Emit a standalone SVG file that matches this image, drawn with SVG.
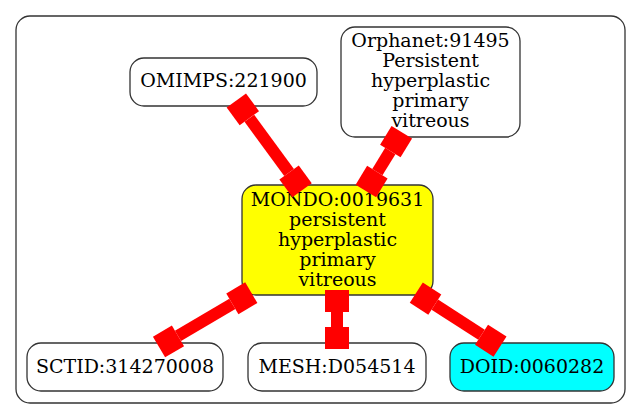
<svg xmlns="http://www.w3.org/2000/svg" width="641" height="419" viewBox="0 0 641 419">
<style>
.n{fill:#fff;stroke:#333;stroke-width:1.3}
.t{font-family:"DejaVu Serif",serif;font-size:19px;fill:#000;text-anchor:middle}
.e rect{fill:#f00}
</style>
<rect width="641" height="419" fill="#fff"/>
<rect x="16" y="16" width="609" height="387" rx="14" fill="#fff" stroke="#333" stroke-width="1.3"/>
<g id="OMIMPS_221900">
<rect class="n" x="130" y="58" width="187" height="48" rx="14"/>
<text class="t" x="223.5" y="87">OMIMPS:221900</text>
</g>
<g id="Orphanet_91495">
<rect class="n" x="341" y="27" width="179" height="110" rx="14"/>
<text class="t" x="430.5" y="46.5">Orphanet:91495</text>
<text class="t" x="430.5" y="66.5">Persistent</text>
<text class="t" x="430.5" y="86.5">hyperplastic</text>
<text class="t" x="430.5" y="106.5">primary</text>
<text class="t" x="430.5" y="126.5">vitreous</text>
</g>
<g id="MONDO_0019631">
<rect class="n" x="242" y="185" width="191" height="110" rx="14" style="fill:#ff0"/>
<text class="t" x="337.5" y="206">MONDO:0019631</text>
<text class="t" x="337.5" y="226">persistent</text>
<text class="t" x="337.5" y="246">hyperplastic</text>
<text class="t" x="337.5" y="266">primary</text>
<text class="t" x="337.5" y="286">vitreous</text>
</g>
<g id="SCTID_314270008">
<rect class="n" x="27" y="343" width="196" height="48" rx="14"/>
<text class="t" x="125" y="373">SCTID:314270008</text>
</g>
<g id="MESH_D054514">
<rect class="n" x="248" y="343" width="178" height="48" rx="14"/>
<text class="t" x="337" y="373">MESH:D054514</text>
</g>
<g id="DOID_0060282">
<rect class="n" x="450" y="343" width="164" height="48" rx="14" style="fill:#0ff"/>
<text class="t" x="532" y="373">DOID:0060282</text>
</g>
<g id="edges" class="e">
<g transform="translate(239.3,104.5) rotate(53.8)">
<rect x="-5" y="-12" width="22" height="24"/><rect x="17" y="-6" width="67.3" height="12"/><rect x="84.3" y="-12" width="22" height="24"/>
</g>
<g transform="translate(399.2,136.5) rotate(121.5)">
<rect x="-5" y="-12" width="22" height="24"/><rect x="17" y="-6" width="24.8" height="12"/><rect x="41.8" y="-12" width="22" height="24"/>
</g>
<g transform="translate(247,295.2) rotate(149.5)">
<rect x="-5" y="-12" width="22" height="24"/><rect x="17" y="-6" width="63.1" height="12"/><rect x="80.1" y="-12" width="22" height="24"/>
</g>
<g transform="translate(337,295) rotate(90)">
<rect x="-5" y="-12" width="22" height="24"/><rect x="17" y="-6" width="15" height="12"/><rect x="32" y="-12" width="22" height="24"/>
</g>
<g transform="translate(420.5,295.4) rotate(32.8)">
<rect x="-5" y="-12" width="22" height="24"/><rect x="17" y="-6" width="55.6" height="12"/><rect x="72.6" y="-12" width="22" height="24"/>
</g>
</g>
</svg>
